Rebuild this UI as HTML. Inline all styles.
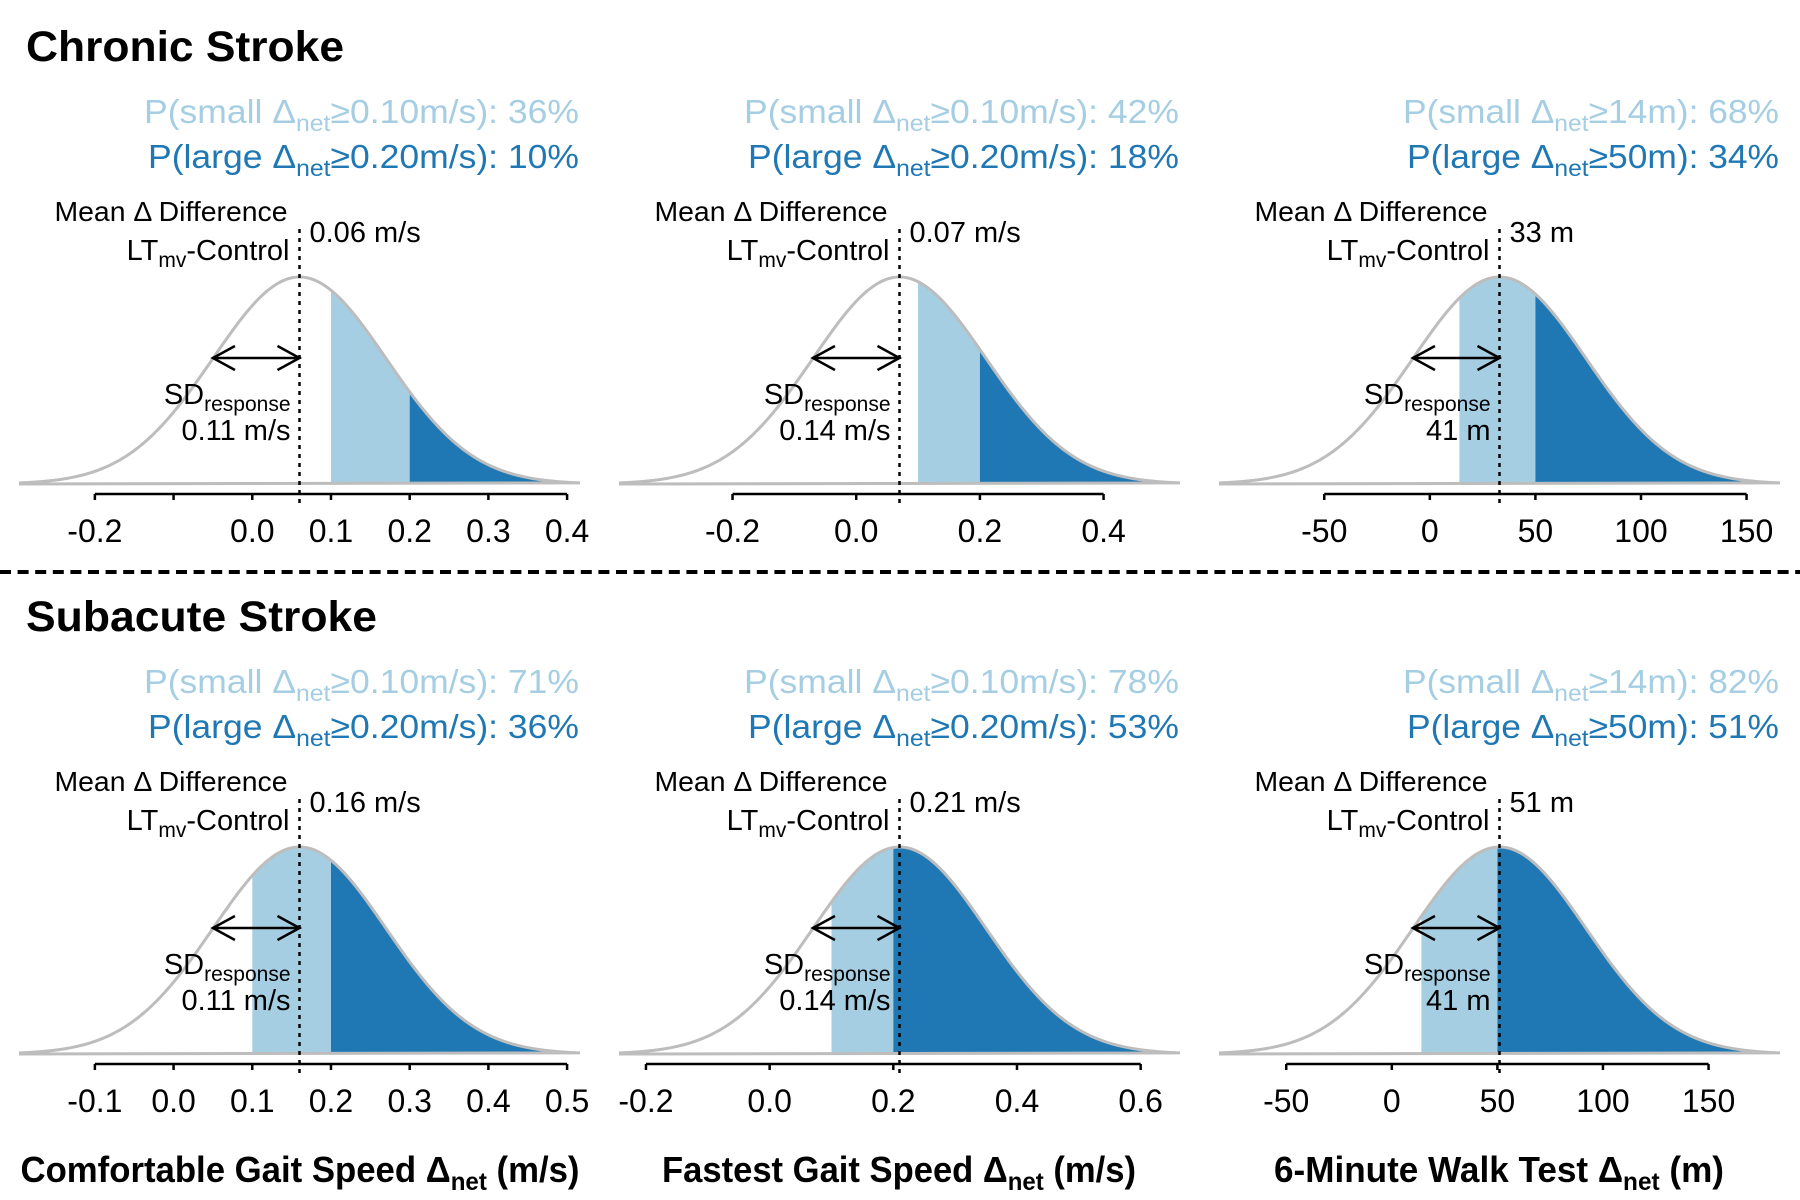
<!DOCTYPE html>
<html><head><meta charset="utf-8"><style>
html,body{margin:0;padding:0;background:#fff;}
svg{display:block;font-family:"Liberation Sans",Arial,sans-serif;}
</style></head><body>
<svg id="fig" width="1800" height="1200" viewBox="0 0 1800 1200" xmlns="http://www.w3.org/2000/svg">
<rect x="0" y="0" width="1800" height="1200" fill="#fff"/>
<text x="26" y="61" font-size="43" font-weight="bold" textLength="318" lengthAdjust="spacingAndGlyphs">Chronic Stroke</text>
<text x="26" y="631" font-size="43" font-weight="bold" textLength="351" lengthAdjust="spacingAndGlyphs">Subacute Stroke</text>
<line x1="0" y1="572" x2="1800" y2="572" stroke="#000" stroke-width="4" stroke-dasharray="11 6.6"/>
<text x="300" y="1182" text-anchor="middle" font-size="36" font-weight="bold" textLength="559" lengthAdjust="spacingAndGlyphs">Comfortable Gait Speed Δ<tspan font-size="25" dy="8">net</tspan><tspan dy="-8"> (m/s)</tspan></text>
<text x="899" y="1182" text-anchor="middle" font-size="36" font-weight="bold" textLength="474" lengthAdjust="spacingAndGlyphs">Fastest Gait Speed Δ<tspan font-size="25" dy="8">net</tspan><tspan dy="-8"> (m/s)</tspan></text>
<text x="1499" y="1182" text-anchor="middle" font-size="36" font-weight="bold" textLength="450" lengthAdjust="spacingAndGlyphs">6-Minute Walk Test Δ<tspan font-size="25" dy="8">net</tspan><tspan dy="-8"> (m)</tspan></text>
</svg>
<script>
const means=[0.06,0.07,33,0.16,0.21,51];
const sds=[0.11,0.14,41,0.11,0.14,41];
const smallThr=[0.1,0.1,14,0.1,0.1,14];
const largeThr=[0.2,0.2,50,0.2,0.2,50];
const pSmall=[36,42,68,71,78,82];
const pLarge=[10,18,34,36,53,51];
const meanLabels=['0.06 m/s','0.07 m/s','33 m','0.16 m/s','0.21 m/s','51 m'];
const sdLabels=['0.11 m/s','0.14 m/s','41 m','0.11 m/s','0.14 m/s','41 m'];
const smallThrLabels=['0.10m/s','0.10m/s','14m','0.10m/s','0.10m/s','14m'];
const largeThrLabels=['0.20m/s','0.20m/s','50m','0.20m/s','0.20m/s','50m'];
const tickValues=[[-0.2,-0.1,0,0.1,0.2,0.3,0.4],[-0.2,0,0.2,0.4],[-50,0,50,100,150],[-0.1,0,0.1,0.2,0.3,0.4,0.5],[-0.2,0,0.2,0.4,0.6],[-50,0,50,100,150]];
const tickLabels=[['-0.2','','0.0','0.1','0.2','0.3','0.4'],['-0.2','0.0','0.2','0.4'],['-50','0','50','100','150'],['-0.1','0.0','0.1','0.2','0.3','0.4','0.5'],['-0.2','0.0','0.2','0.4','0.6'],['-50','0','50','100','150']];

const NS='http://www.w3.org/2000/svg';
const svg=document.getElementById('fig');
const K=3.24, W=561, H=207;
const LIGHT='#a6cee3', DARK='#1f78b4';
function mk(tag,attrs){const e=document.createElementNS(NS,tag);for(const k in attrs)e.setAttribute(k,attrs[k]);svg.appendChild(e);return e;}

for(let i=0;i<6;i++){
  const col=i%3,row=Math.floor(i/3);
  const ox=col*600, oy=row*570;
  const m=means[i], s=sds[i];
  const lo=m-K*s, hi=m+K*s;
  const X=v=>ox+19+(v-lo)/(hi-lo)*W;
  const base=oy+484;
  const Y=v=>base-H*Math.exp(-0.5*((v-m)/s)**2);
  const mx=X(m);
  function region(a,b){
    let p='M'+X(a).toFixed(2)+','+base;
    const n=120;
    for(let j=0;j<=n;j++){const v=a+(b-a)*j/n;p+=' L'+X(v).toFixed(2)+','+Y(v).toFixed(2);}
    return p+' L'+X(b).toFixed(2)+','+base+' Z';
  }
  const f1=mk('path',{d:region(smallThr[i],largeThr[i]),fill:LIGHT});
  
  
  const f2=mk('path',{d:region(largeThr[i],hi),fill:DARK});
  
  
  let cp='';
  const n=300;
  for(let j=0;j<=n;j++){const v=lo+(hi-lo)*j/n;cp+=(j?' L':'M')+X(v).toFixed(2)+','+Y(v).toFixed(2);}
  cp+=' L'+X(lo).toFixed(2)+','+base;
  const cur=mk('path',{d:cp,fill:'none',stroke:'#bdbdbd','stroke-width':3});
  
  
  const tv=tickValues[i];
  const ax=mk('line',{x1:X(tv[0]),x2:X(tv[tv.length-1]),y1:oy+494,y2:oy+494,stroke:'#000','stroke-width':2.5});
  
  
  tv.forEach((v,j)=>{
    const t=mk('line',{x1:X(v),x2:X(v),y1:oy+494,y2:oy+500,stroke:'#000','stroke-width':2.5});
    
    
    if(tickLabels[i][j]){
      const tl=mk('text',{x:X(v),y:oy+542,'text-anchor':'middle','font-size':32});
      tl.textContent=tickLabels[i][j];
      
      
    }
  });
  const ml=mk('line',{x1:mx,x2:mx,y1:oy+229,y2:oy+507,stroke:'#000','stroke-width':2.5,'stroke-dasharray':'4 5'});
  
  
  const ax0=X(m-s);
  const ay=oy+358;
  const ar=mk('path',{d:`M${ax0},${ay} L${mx},${ay} M${ax0+22},${ay-12} L${ax0},${ay} L${ax0+22},${ay+12} M${mx-22},${ay-12} L${mx},${ay} L${mx-22},${ay+12}`,fill:'none',stroke:'#000','stroke-width':2.5});
  
  
  const t1=mk('text',{x:mx-12,y:oy+221,'text-anchor':'end','font-size':28,textLength:233,lengthAdjust:'spacingAndGlyphs'});
  t1.textContent='Mean Δ Difference';
  
  
  const t2=mk('text',{x:mx-10,y:oy+260,'text-anchor':'end','font-size':29});
  t2.innerHTML='LT<tspan font-size="21" dy="7">mv</tspan><tspan dy="-7">-Control</tspan>';
  
  
  const t3=mk('text',{x:mx+10,y:oy+242,'font-size':29});
  t3.textContent=meanLabels[i];
  
  
  const t4=mk('text',{x:mx-9,y:oy+404,'text-anchor':'end','font-size':29});
  t4.innerHTML='SD<tspan font-size="21" dy="7">response</tspan>';
  
  
  const t5=mk('text',{x:mx-9,y:oy+440,'text-anchor':'end','font-size':29});
  t5.textContent=sdLabels[i];
  
  
  const wS=col<2?435:376, wL=col<2?431:372;
  const p1=mk('text',{x:ox+579,y:oy+123,'text-anchor':'end','font-size':33,fill:LIGHT,textLength:wS,lengthAdjust:'spacingAndGlyphs'});
  p1.innerHTML='P(small Δ<tspan font-size="23" dy="8">net</tspan><tspan dy="-8">≥'+smallThrLabels[i]+'): '+pSmall[i]+'%</tspan>';
  
  
  const p2=mk('text',{x:ox+579,y:oy+168,'text-anchor':'end','font-size':33,fill:DARK,textLength:wL,lengthAdjust:'spacingAndGlyphs'});
  p2.innerHTML='P(large Δ<tspan font-size="23" dy="8">net</tspan><tspan dy="-8">≥'+largeThrLabels[i]+'): '+pLarge[i]+'%</tspan>';
  
  
}
</script>
</body></html>
